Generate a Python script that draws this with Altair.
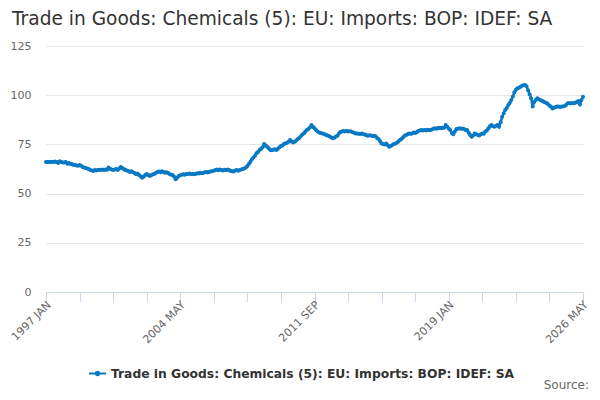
import altair as alt
import pandas as pd

SERIES = "Trade in Goods: Chemicals (5): EU: Imports: BOP: IDEF: SA"
MONTHS = ["JAN", "FEB", "MAR", "APR", "MAY", "JUN",
          "JUL", "AUG", "SEP", "OCT", "NOV", "DEC"]
BLUE = "#0879c4"

# monthly values (index 1997 JAN .. 2026 MAY)
y1997 = [66, 66, 66, 66, 66.2, 66, 66.3, 66, 65.5, 66.4, 66, 65.8]
y1998 = [65.8, 66, 65.2, 65.5, 65, 65, 64.5, 64.6, 64.3, 64.2, 64.5, 64.2]
y1999 = [63.5, 63.2, 63, 62.8, 62.5, 62, 61.8, 61.5, 62, 61.8, 62, 62.1]
y2000 = [62, 62.2, 62, 62.3, 62.1, 63.2, 62.5, 62.3, 62, 62.2, 62.5, 62]
y2001 = [62.8, 63.5, 63, 62.5, 62, 61.8, 61.5, 61, 61.3, 60.8, 60.5, 59.8]
y2002 = [60.2, 59.5, 58.8, 58.1, 58.6, 59.5, 60, 59.4, 59, 59.3, 59.8, 60]
y2003 = [60.5, 61, 61.2, 60.8, 61.3, 61, 60.6, 60.8, 60.5, 60, 59.6, 59.5]
y2004 = [58.5, 57.3, 58.2, 59, 59.3, 59.6, 59.8, 59.6, 59.9, 60, 60.2, 59.9]
y2005 = [60, 59.8, 60, 60.3, 60.2, 60.6, 60.3, 60.5, 60.8, 61, 60.7, 61.1]
y2006 = [61.2, 61.5, 61.6, 62, 62.3, 61.9, 62.2, 62, 61.7, 62.1, 62, 62.2]
y2007 = [62, 61.5, 61.4, 61.2, 61.8, 62, 61.6, 62, 62.2, 62.5, 62.8, 63.2]
y2008 = [64, 65, 66.2, 67.4, 68.3, 69.2, 70.5, 71.2, 72.2, 72.8, 73.5, 75.2]
y2009 = [74.5, 73.8, 73, 72.2, 72, 72.3, 72.5, 72.2, 72.8, 73.5, 74.2, 74.4]
y2010 = [75.3, 75.5, 75.8, 76.3, 77.2, 76.5, 76, 76.4, 77, 77.7, 78.3, 79.2]
y2011 = [80, 80.6, 81.5, 82.3, 82.8, 83.6, 84.9, 84, 83.2, 82.3, 81.5, 81.1]
y2012 = [80.8, 80.6, 80.4, 80, 79.6, 79.4, 79, 78.5, 78.1, 78.4, 79, 79.4]
y2013 = [80.5, 81.3, 81.5, 81.8, 81.6, 81.8, 81.5, 81.7, 81.5, 81.2, 80.9, 80.6]
y2014 = [80.6, 80.4, 80.3, 80.5, 80.2, 80, 79.7, 79.4, 79.6, 79.5, 79.3, 79.4]
y2015 = [79.2, 78.3, 77.7, 76.6, 75.5, 75.2, 75, 75.4, 74.6, 73.8, 74.2, 74.7]
y2016 = [75.2, 75.5, 75.9, 76.5, 77.2, 77.8, 78.5, 79.4, 79.8, 80.2, 80.6, 80.4]
y2017 = [80.6, 81, 80.8, 81.2, 81.8, 82, 82.3, 82.1, 82.3, 82, 82.4, 82.2]
y2018 = [82.3, 82.6, 83, 83.2, 82.9, 83.3, 83.5, 83.2, 83.5, 83.4, 84.9, 84]
y2019 = [83, 82.3, 80.8, 80.1, 81.5, 82.8, 83, 83.2, 82.9, 83.1, 82.8, 82.3]
y2020 = [82.3, 81, 79.8, 78.9, 79.5, 80.6, 80.2, 79.8, 79.5, 80.2, 80.6, 80.4]
y2021 = [81.5, 82, 83.2, 84.2, 84.9, 84.2, 84, 84.5, 84.9, 84, 86.2, 89]
y2022 = [90.8, 92.5, 93.5, 95, 96, 97.6, 99.3, 101.5, 102.8, 103.5, 103.8, 104.3]
y2023 = [104.8, 105, 105.2, 104.5, 102.5, 100.5, 98.5, 94.2, 96.5, 97.5, 98.4, 98]
y2024 = [97.6, 97.2, 96.8, 96.4, 96, 95.5, 94.7, 94.2, 93.3, 93.6, 94, 94.2]
y2025 = [94.2, 94, 94.3, 94.2, 94.5, 95.2, 95.9, 96, 95.8, 96, 95.9, 96.2]
y2026 = [96.5, 97, 95.4, 97.5, 99.2]

by_year = [y1997, y1998, y1999, y2000, y2001, y2002, y2003, y2004, y2005,
           y2006, y2007, y2008, y2009, y2010, y2011, y2012, y2013, y2014,
           y2015, y2016, y2017, y2018, y2019, y2020, y2021, y2022, y2023,
           y2024, y2025, y2026]

rows = []
for k, vals in enumerate(by_year):
    for m, v in enumerate(vals):
        rows.append({"idx": k * 12 + m, "period": f"{1997 + k} {MONTHS[m]}",
                     "value": v, "series": SERIES})
df = pd.DataFrame(rows)

tick_values = list(range(0, 353, 22))
month_arr = "[" + ",".join(f"'{m}'" for m in MONTHS) + "]"
label_expr = (f"datum.value % 88 == 0 ? (1997 + floor(datum.value / 12)) + ' ' + "
              f"{month_arr}[datum.value % 12] : ''")

line = (
    alt.Chart(df)
    .mark_line(strokeWidth=2.5, point=alt.OverlayMarkDef(filled=True, size=16))
    .encode(
        x=alt.X("idx:Q", title=None,
                scale=alt.Scale(domain=[0, 352], nice=False, zero=False),
                axis=alt.Axis(values=tick_values, labelExpr=label_expr,
                              grid=False, domainColor="#ccd6eb", tickColor="#ccd6eb",
                              tickSize=10, labelAngle=-45, labelAlign="right",
                              labelBaseline="middle", labelPadding=1, labelOffset=3,
                              labelColor="#666666", labelFontSize=11,
                              labelOverlap=False, labelFlush=False)),
        y=alt.Y("value:Q", title=None,
                scale=alt.Scale(domain=[0, 125], nice=False),
                axis=alt.Axis(values=[0, 25, 50, 75, 100, 125], domain=False,
                              ticks=False, gridColor="#e6e6e6", labelColor="#666666",
                              labelFontSize=11, labelPadding=15)),
        color=alt.Color("series:N", title=None,
                        scale=alt.Scale(domain=[SERIES], range=[BLUE]),
                        legend=alt.Legend(orient="none", legendX=42, legendY=318,
                                          symbolType="M-1,0L1,0M-0.2,0A0.2,0.2,0,1,1,0.2,0A0.2,0.2,0,1,1,-0.2,0",
                                          symbolSize=289, symbolStrokeWidth=2,
                                          labelFont="DejaVu Sans", labelFontSize=12.3,
                                          labelFontWeight="bold", labelColor="#333333",
                                          labelLimit=600)),
        tooltip=["period", "value"],
    )
)

source = (
    alt.Chart(pd.DataFrame({"t": ["Source:"]}))
    .mark_text(align="right", baseline="alphabetic", fontSize=12, color="#666666")
    .encode(x=alt.value(543), y=alt.value(343), text="t:N")
)

chart = (
    alt.layer(line, source)
    .properties(
        width=537, height=246,
        autosize=alt.AutoSizeParams(type="none"),
        padding={"left": 38, "top": 38, "right": 8, "bottom": 100},
        title=alt.TitleParams(SERIES, anchor="start", frame="group", dx=-34,
                              offset=11, fontSize=18.6, fontWeight="normal",
                              color="#333333", font="DejaVu Sans"),
    )
    .configure(font="DejaVu Sans")
    .configure_view(stroke=None)
)

chart.save("out.html", embed_options={"renderer": "svg", "actions": False})
